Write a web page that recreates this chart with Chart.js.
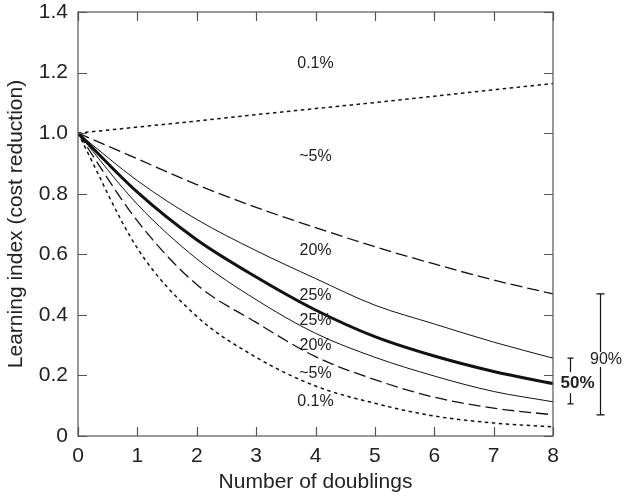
<!DOCTYPE html>
<html>
<head>
<meta charset="utf-8">
<title>Learning curves</title>
<script src="https://cdn.jsdelivr.net/npm/chart.js@4.4.1/dist/chart.umd.min.js"></script>
<style>
    body { margin: 0; background: #fff; }
    #wrap { width: 624px; height: 500px; }
</style>
</head>
<body>
<div id="wrap"><canvas id="learningChart" width="624" height="500"></canvas></div>
<script>
// Number of doublings of cumulative output
const doublings = [0, 1, 2, 3, 4, 5, 6, 7, 8];

// Learning index for each percentile band (upper and lower edges)
const upperDotted = [1.00, 1.020, 1.040, 1.061, 1.081, 1.101, 1.122, 1.143, 1.164];
const upperDashed = [1.00, 0.915, 0.830, 0.755, 0.688, 0.625, 0.568, 0.515, 0.469];
const upperThin   = [1.00, 0.843, 0.715, 0.612, 0.520, 0.432, 0.370, 0.310, 0.257];
const median      = [1.00, 0.805, 0.648, 0.525, 0.416, 0.328, 0.264, 0.213, 0.173];
const lowerThin   = [1.00, 0.765, 0.585, 0.450, 0.339, 0.260, 0.198, 0.147, 0.113];
const lowerDashed = [1.00, 0.710, 0.500, 0.375, 0.262, 0.186, 0.128, 0.092, 0.070];
const lowerDotted = [1.00, 0.620, 0.395, 0.260, 0.165, 0.108, 0.066, 0.043, 0.030];

// Tick labels
const xTickLabels = ['0', '1', '2', '3', '4', '5', '6', '7', '8'];
const yTickValues = [0, 0.2, 0.4, 0.6, 0.8, 1.0, 1.2, 1.4];
const yTickLabels = ['0', '0.2', '0.4', '0.6', '0.8', '1.0', '1.2', '1.4'];

// Percentile labels written next to the curves (top to bottom)
const curveLabels = ['0.1%', '~5%', '20%', '25%', '25%', '20%', '~5%', '0.1%'];
const curveLabelX = 4;
const curveLabelY = [1.23, 0.922, 0.611, 0.465, 0.380, 0.297, 0.205, 0.113];

const FONT = '"Liberation Sans", Arial, Helvetica, sans-serif';
const INK = '#111';

function series(values) {
    return values.map((v, i) => ({ x: doublings[i], y: v }));
}

function lineSet(label, values, width, dash) {
    return {
        label: label,
        data: series(values),
        borderColor: INK,
        borderWidth: width,
        borderDash: dash,
        pointRadius: 0,
        fill: false,
        cubicInterpolationMode: 'monotone'
    };
}

// Frame with inward ticks, curve labels and the 50% / 90% range brackets
const frameAndNotes = {
    id: 'frameAndNotes',
    afterDraw(chart) {
        const { ctx, chartArea: a, scales: { x, y } } = chart;
        ctx.save();

        ctx.strokeStyle = '#555';
        ctx.lineWidth = 1.2;
        ctx.strokeRect(a.left, a.top, a.right - a.left, a.bottom - a.top);

        const tick = 9;
        ctx.beginPath();
        doublings.forEach(v => {
            const px = Math.round(x.getPixelForValue(v)) + 0.5;
            ctx.moveTo(px, a.bottom); ctx.lineTo(px, a.bottom - tick);
            ctx.moveTo(px, a.top); ctx.lineTo(px, a.top + tick);
        });
        yTickValues.forEach(v => {
            const py = Math.round(y.getPixelForValue(v)) + 0.5;
            ctx.moveTo(a.left, py); ctx.lineTo(a.left + tick, py);
            ctx.moveTo(a.right, py); ctx.lineTo(a.right - tick, py);
        });
        ctx.stroke();

        // curve labels
        ctx.fillStyle = '#222';
        ctx.font = '16px ' + FONT;
        ctx.textAlign = 'center';
        ctx.textBaseline = 'middle';
        curveLabels.forEach((t, i) => {
            ctx.fillText(t, x.getPixelForValue(curveLabelX), y.getPixelForValue(curveLabelY[i]));
        });

        // range brackets to the right of the plot
        const last = doublings.length - 1;
        function bracket(bx, top, bottom, gapTop, gapBottom, cap) {
            ctx.beginPath();
            ctx.moveTo(bx - cap, top); ctx.lineTo(bx + cap, top);
            ctx.moveTo(bx - cap, bottom); ctx.lineTo(bx + cap, bottom);
            ctx.moveTo(bx, top); ctx.lineTo(bx, gapTop);
            ctx.moveTo(bx, gapBottom); ctx.lineTo(bx, bottom);
            ctx.stroke();
        }
        ctx.strokeStyle = INK;
        ctx.lineWidth = 1.2;

        const b90x = a.right + 47.5;
        const b90top = y.getPixelForValue(upperDashed[last]);
        const b90bot = y.getPixelForValue(lowerDashed[last]);
        bracket(b90x, b90top, b90bot, 352, 367, 4);
        ctx.font = '16px ' + FONT;
        ctx.fillText('90%', a.right + 53, 359.5);

        const b50x = a.right + 17.5;
        const b50top = y.getPixelForValue(upperThin[last]);
        const b50bot = y.getPixelForValue(lowerThin[last]) + 2;
        bracket(b50x, b50top, b50bot, 372, 393, 3);
        ctx.font = 'bold 17px ' + FONT;
        ctx.fillText('50%', a.right + 24.5, 383.5);

        ctx.restore();
    }
};

new Chart(document.getElementById('learningChart'), {
    type: 'line',
    data: {
        datasets: [
            lineSet('0.1% upper', upperDotted, 1.5, [3.5, 3.5]),
            lineSet('~5% upper', upperDashed, 1.3, [12, 5]),
            lineSet('20% upper', upperThin, 1, []),
            lineSet('median', median, 3, []),
            lineSet('20% lower', lowerThin, 1, []),
            lineSet('~5% lower', lowerDashed, 1.3, [12, 5]),
            lineSet('0.1% lower', lowerDotted, 1.5, [3.5, 3.5])
        ]
    },
    options: {
        responsive: false,
        animation: false,
        layout: { padding: { top: 12, right: 71, left: 0, bottom: 0 } },
        plugins: {
            legend: { display: false },
            tooltip: { enabled: false }
        },
        scales: {
            x: {
                type: 'linear',
                min: 0,
                max: 8,
                afterFit: scale => {
                    scale.height = 64;
                    scale.paddingLeft = 0;
                    scale.paddingRight = 0;
                },
                grid: { display: false, drawTicks: false },
                border: { display: false },
                ticks: {
                    stepSize: 1,
                    padding: 10,
                    color: '#222',
                    font: { family: FONT, size: 21, lineHeight: 1 },
                    callback: (v) => xTickLabels[v]
                },
                title: {
                    display: true,
                    text: 'Number of doublings',
                    color: '#222',
                    font: { family: FONT, size: 21 },
                    padding: { top: 0, bottom: 5 }
                }
            },
            y: {
                min: 0,
                max: 1.4,
                afterFit: scale => {
                    scale.width = 78;
                    scale.paddingTop = 0;
                    scale.paddingBottom = 0;
                },
                afterBuildTicks: scale => {
                    scale.ticks = yTickValues.map(v => ({ value: v }));
                },
                grid: { display: false, drawTicks: false },
                border: { display: false },
                ticks: {
                    padding: 10,
                    color: '#222',
                    font: { family: FONT, size: 21, lineHeight: 1 },
                    callback: (v) => yTickLabels[yTickValues.findIndex(t => Math.abs(t - v) < 1e-6)]
                },
                title: {
                    display: true,
                    text: 'Learning index (cost reduction)',
                    color: '#222',
                    font: { family: FONT, size: 21 },
                    padding: { top: 4, bottom: 0 }
                }
            }
        }
    },
    plugins: [frameAndNotes]
});
</script>
</body>
</html>
